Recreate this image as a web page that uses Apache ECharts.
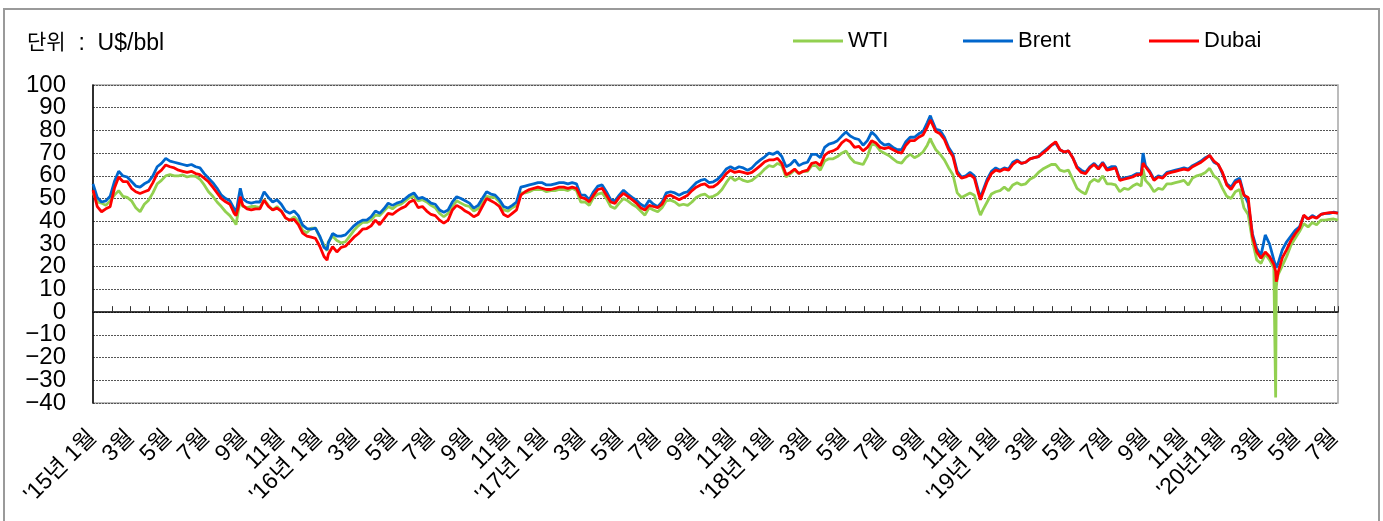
<!DOCTYPE html>
<html>
<head>
<meta charset="utf-8">
<script src="https://cdn.jsdelivr.net/npm/echarts@6/dist/echarts.min.js"></script>
<style>
html,body{margin:0;padding:0;background:#fff;}
#c{width:1383px;height:521px;}
</style>
</head>
<body>
<div id="c"></div>
<script>
const FONT = "'Liberation Sans', Arial, 'Noto Sans CJK KR', sans-serif";

// Weekly (Friday) samples, first week = 2015-01-02
const firstWeek = '2015-01-02';
const lastDay = '2020-07-31';

const brent2015 = [56.5,50.5,48.5,49.0,51.0,57.5,62.0,60.0,59.5,57.5,55.5,55.0,56.5,57.5,60.0,64.0,65.5,67.7,66.5,66.0,65.5,65.0,64.5,65.0,64.0,63.5,61.0,59.0,57.0,54.5,51.5,50.0,49.0,45.5,50.0,50.0,48.5,48.0,48.5,48.5,53.0,50.5,48.5,49.5,47.5,44.5,43.5,44.5,42.5,38.3,36.8,36.5];
const wti2015   = [52.5,48.5,48.0,47.0,49.0,51.5,53.5,51.0,50.5,49.0,46.0,44.2,47.5,49.3,52.5,56.5,58.0,60.0,60.5,60.0,60.0,60.4,59.5,60.0,59.8,58.5,56.0,53.0,51.0,48.5,46.5,44.2,42.5,40.0,45.0,46.5,46.0,46.5,46.5,46.0,49.5,47.0,45.0,46.5,44.5,41.5,40.5,42.0,40.0,36.0,35.0,37.0];
const dubai2015 = [53.7,46.5,44.2,45.5,46.4,54.5,59.5,57.5,57.5,54.5,53.0,52.2,53.0,53.7,57.0,61.0,62.5,64.8,64.0,63.5,62.5,62.0,61.5,62.0,61.0,60.5,59.0,57.4,55.0,52.5,50.0,48.6,47.5,43.5,46.5,47.0,45.5,45.0,45.5,45.5,49.3,46.5,45.0,45.8,44.5,41.5,40.5,40.8,38.5,34.8,33.5,33.0];

const brent2016 = [37.0,33.5,28.5,30.5,34.6,33.5,33.5,34.0,36.0,38.0,39.5,40.5,40.5,42.0,44.5,43.5,45.5,48.0,47.0,48.0,48.6,50.0,51.5,52.5,50.0,50.5,49.5,48.0,47.5,45.0,44.0,45.0,48.5,50.8,50.0,49.0,48.0,45.8,47.0,50.0,53.0,52.0,51.5,49.5,46.5,45.8,47.0,48.5,55.0,55.5,56.0,56.5,57.0];
const wti2016   = [37.0,33.0,29.5,31.0,33.5,31.5,30.5,31.0,33.5,36.0,38.0,39.5,39.5,40.5,42.7,42.5,44.5,46.5,45.5,47.0,47.5,49.0,50.5,51.0,49.0,49.5,48.5,47.0,46.0,43.5,42.0,43.5,46.5,49.0,48.0,47.0,46.5,44.5,45.5,48.5,51.0,50.5,50.5,48.5,45.0,44.5,46.0,47.0,52.5,52.5,53.0,54.0,54.0];
const dubai2016 = [32.5,29.0,24.5,25.5,28.8,26.5,28.5,29.0,31.0,33.0,34.5,36.5,36.8,38.0,40.5,38.5,41.0,43.5,43.0,44.5,45.7,46.5,48.5,49.3,46.0,46.5,44.5,43.0,42.5,40.5,39.2,40.5,45.0,47.0,46.0,44.5,43.5,42.0,43.0,46.5,50.0,49.0,48.0,46.5,43.0,42.0,43.5,45.0,51.5,53.0,54.0,54.5,55.0];

const brent2017 = [57.0,56.0,56.0,56.5,57.0,57.0,56.5,57.0,56.5,51.5,51.5,49.5,53.0,55.5,56.0,53.0,49.5,49.0,51.5,53.7,52.0,50.5,49.3,47.5,46.4,49.3,47.5,46.4,48.5,52.5,53.0,52.5,51.5,52.5,53.0,55.0,57.0,58.0,58.5,57.0,57.4,58.5,60.5,63.0,64.0,63.0,64.0,63.5,62.5,63.5,65.5,67.0];
const wti2017   = [54.0,53.0,53.5,53.5,54.0,54.0,53.5,54.5,53.5,48.5,48.5,47.0,50.5,52.0,52.5,50.0,46.5,45.7,48.0,50.0,49.0,47.5,46.4,44.5,42.7,46.0,45.0,44.2,46.0,49.0,49.3,48.5,47.0,47.5,47.0,48.5,50.5,51.5,52.0,50.5,51.0,52.0,54.0,57.0,59.6,58.0,59.0,58.0,57.4,58.0,59.5,61.0];
const dubai2017 = [54.5,54.0,54.0,54.5,55.0,55.0,54.5,55.0,54.5,50.5,50.0,48.6,51.5,54.0,54.5,51.5,48.5,47.9,50.5,52.3,51.0,49.5,48.0,46.0,45.0,47.0,46.5,46.0,47.5,51.0,51.5,50.5,49.5,50.5,51.5,53.5,55.0,56.0,56.5,55.0,55.2,56.5,58.5,61.0,62.5,61.5,62.0,61.5,61.0,61.5,63.0,64.5];

const brent2018 = [68.4,70.0,69.5,70.6,68.5,64.0,65.0,67.0,64.5,65.5,66.0,69.5,69.5,68.0,72.5,74.0,74.5,75.5,77.5,79.3,77.5,76.5,76.0,73.5,75.5,79.3,77.5,75.0,73.5,74.0,72.5,71.5,71.5,75.0,77.0,77.0,78.5,79.5,83.5,85.0,80.5,80.0,77.0,72.5,69.5,62.0,59.5,60.0,61.5,60.0,53.0,53.5];
const wti2018   = [63.0,64.5,64.0,65.5,64.5,59.5,61.0,62.5,61.0,62.0,62.0,64.5,64.5,62.5,66.5,67.5,67.5,68.5,70.0,71.0,68.0,66.0,65.5,65.0,68.5,74.0,73.5,71.0,70.0,69.0,67.5,66.0,65.6,68.0,69.5,68.0,69.0,70.5,73.5,75.0,71.5,69.5,67.0,63.5,60.5,52.5,50.5,51.5,52.5,51.5,45.0,45.0];
const dubai2018 = [66.2,67.0,67.0,67.7,65.5,60.5,61.5,63.0,61.0,62.0,62.5,65.5,66.0,64.5,69.0,70.5,71.0,72.0,74.5,76.0,75.0,72.5,73.0,71.0,72.5,75.5,74.5,72.5,72.0,72.5,71.5,70.5,70.0,73.5,75.5,75.5,77.0,78.0,81.5,83.5,79.5,78.5,76.0,71.5,68.5,61.0,59.0,59.5,60.5,59.0,52.0,52.5];

const brent2019 = [58.5,62.0,63.5,62.5,63.5,63.0,66.0,67.0,65.5,66.0,67.5,68.0,68.5,70.5,72.0,73.5,74.5,71.5,70.5,71.0,68.0,64.0,62.5,61.5,64.0,65.5,63.5,66.0,63.0,64.0,64.0,58.5,59.0,59.5,60.0,61.0,61.0,64.5,62.0,58.5,60.0,59.5,61.5,62.0,62.5,63.0,63.5,63.0,64.5,65.5,66.5,68.0];
const wti2019   = [48.5,52.0,53.0,53.5,55.0,53.5,56.0,57.0,56.0,56.5,58.5,59.5,61.5,63.0,64.0,65.0,65.0,62.5,62.0,62.5,58.5,54.5,53.0,52.0,57.0,58.5,57.5,60.0,56.5,56.5,56.0,53.0,54.5,54.0,55.5,56.5,55.5,58.0,56.0,53.0,54.5,54.0,56.5,56.5,57.0,57.5,58.0,56.0,59.0,60.0,60.5,61.5];
const dubai2019 = [57.5,61.0,62.5,62.0,63.0,62.5,65.0,66.5,65.5,66.0,67.5,68.0,68.5,70.0,71.5,73.5,75.0,71.5,70.5,71.0,68.0,63.5,61.5,61.0,63.5,65.0,63.0,65.5,62.5,63.0,63.5,58.0,58.5,59.0,59.5,60.5,60.5,64.0,61.5,58.0,59.5,59.0,61.0,61.5,62.0,62.5,63.0,62.5,64.0,65.0,66.0,67.5];

const brent2020 = [69.0,66.0,65.0,61.0,56.5,55.0,58.0,59.0,52.0,48.0,34.5,28.0,25.0,34.0,30.0,23.0,21.5,27.5,31.0,33.5,36.0,37.5,42.5,41.0,42.5,41.5,43.0,43.5,43.5,44.0,43.6];
const wti2020   = [63.3,60.0,58.5,54.5,51.0,50.0,53.0,54.0,46.0,43.0,31.5,23.0,21.5,25.5,23.0,19.5,16.5,20.5,24.5,29.5,32.5,35.5,39.0,37.5,39.5,38.5,40.5,40.5,40.8,41.0,40.5];
const dubai2020 = [69.0,66.5,65.0,61.5,56.0,54.0,57.0,58.0,51.5,50.5,33.5,26.5,23.8,26.5,24.5,21.0,17.5,24.0,27.5,31.5,34.5,37.0,42.7,41.0,42.0,41.4,43.0,43.5,43.8,43.8,43.6];

// extra daily points at extremes
const extraDates = ['2015-08-24','2015-08-31','2016-01-20','2018-10-03','2018-12-24','2019-09-16','2020-04-20','2020-04-21','2020-04-22'];
const extraBrent = [43.5, 54.5, 27.5, 86.5, 50.5, 70.0, 20.5, 19.5, 20.0];
const extraWTI   = [38.5, 49.0, 27.0, 76.5, 42.7, 63.0, -37.6, 11.0, 13.5];
const extraDubai = [42.5, 50.8, 22.9, 84.6, 49.5, 65.6, 18.0, 13.4, 14.5];

// axis labels (one per two months)
const tickLabels = ["'15년 1월","3월","5월","7월","9월","11월",
  "'16년 1월","3월","5월","7월","9월","11월",
  "'17년 1월","3월","5월","7월","9월","11월",
  "'18년 1월","3월","5월","7월","9월","11월",
  "'19년 1월","3월","5월","7월","9월","11월",
  "'20년1월","3월","5월","7월"];
const yTicks = [-40,-30,-20,-10,0,10,20,30,40,50,60,70,80,90,100];

const seriesNames = ['WTI','Brent','Dubai'];
const seriesColors = ['#92D050','#0066CC','#FF0000'];

function toTime(s){ const p = s.split('-').map(Number); return Date.UTC(p[0], p[1]-1, p[2]); }
function build(weekly, extra){
  const t0 = toTime(firstWeek);
  const pts = weekly.map((v,i)=>[t0 + i*7*86400000, v]);
  extraDates.forEach((d,i)=>pts.push([toTime(d), extra[i]]));
  pts.sort((a,b)=>a[0]-b[0]);
  return pts;
}
const wti = build([].concat(wti2015,wti2016,wti2017,wti2018,wti2019,wti2020), extraWTI);
const brent = build([].concat(brent2015,brent2016,brent2017,brent2018,brent2019,brent2020), extraBrent);
const dubai = build([].concat(dubai2015,dubai2016,dubai2017,dubai2018,dubai2019,dubai2020), extraDubai);
const allData = [wti, brent, dubai];

const TICK_MAX = 66.19; // month ticks span of the plot width
const yFmt = v => v < 0 ? '\u2212' + Math.abs(v) : String(v);
const yInner = [yTicks[1], yTicks[yTicks.length-2]]; // labels next to min/max

const legendCommon = {
  icon: 'rect', itemWidth: 50, itemHeight: 3, itemGap: 0, padding: 0, top: 29,
  selectedMode: false,
  textStyle: { fontSize: 22, color: '#000', fontFamily: FONT, lineHeight: 24 }
};
const yCommon = {
  type: 'value', min: yTicks[0], max: yTicks[yTicks.length-1], interval: 10, position: 'left'
};

const chart = echarts.init(document.getElementById('c'), null, { renderer: 'canvas' });
chart.setOption({
  animation: false,
  backgroundColor: '#fff',
  textStyle: { fontFamily: FONT },
  title: {
    text: '{k|단위}{a|  :  U$/bbl}',
    left: 22, top: 27,
    textStyle: {
      fontWeight: 'normal',
      rich: {
        k: { fontSize: 21, color: '#000', fontFamily: FONT, fontWeight: 'normal' },
        a: { fontSize: 23, color: '#000', fontFamily: FONT, fontWeight: 'normal' }
      }
    }
  },
  legend: [
    Object.assign({}, legendCommon, { data: ['WTI'], left: 793 }),
    Object.assign({}, legendCommon, { data: ['Brent'], left: 963 }),
    Object.assign({}, legendCommon, { data: ['Dubai'], left: 1149 })
  ],
  graphic: [{
    type: 'rect', silent: true, z: -10,
    shape: { x: 4, y: 9, width: 1375, height: 560 },
    style: { fill: 'none', stroke: '#9a9a9a', lineWidth: 2 }
  }],
  grid: {
    left: 93, right: 45, top: 85, bottom: 118,
    show: true, borderColor: '#a6a6a6', borderWidth: 1.5, backgroundColor: 'transparent'
  },
  xAxis: [
    { type: 'time', min: toTime(firstWeek), max: toTime(lastDay), show: false,
      axisLine: { onZero: false } },
    { type: 'value', min: 0, max: TICK_MAX, interval: 1, position: 'bottom',
      axisLine: { show: true, onZero: true, onZeroAxisIndex: 0, lineStyle: { color: '#000', width: 1.5 } },
      axisTick: { show: true, inside: true, length: 6, lineStyle: { color: '#333', width: 1 } },
      axisLabel: { show: false }, splitLine: { show: false } },
    { type: 'value', min: 0, max: TICK_MAX, interval: 1, position: 'bottom',
      axisLine: { show: false, onZero: false }, axisTick: { show: false }, splitLine: { show: false },
      axisLabel: {
        show: true, rotate: 45, margin: 31, fontSize: 23, color: '#000', fontFamily: FONT,
        showMinLabel: true, showMaxLabel: true,
        formatter: function(v){
          const r = Math.round(v);
          if (Math.abs(v - r) > 1e-6 || r % 2 !== 0) return '';
          return tickLabels[r/2] || '';
        }
      } }
  ],
  yAxis: [
    Object.assign({}, yCommon, {
      axisLine: { show: true, onZero: false, lineStyle: { color: '#000', width: 1.5 } },
      axisTick: { show: false },
      axisLabel: { fontSize: 24, lineHeight: 18, color: '#000', margin: 27, fontFamily: FONT,
        showMinLabel: true, showMaxLabel: true, hideOverlap: false, formatter: yFmt },
      splitLine: { show: true, lineStyle: { color: '#555', type: [2, 1], width: 1 } }
    }),
    Object.assign({}, yCommon, {
      axisLine: { show: false, onZero: false }, axisTick: { show: false }, splitLine: { show: false },
      axisLabel: { fontSize: 24, lineHeight: 18, color: '#000', margin: 27, fontFamily: FONT,
        showMinLabel: false, showMaxLabel: false, hideOverlap: false,
        formatter: v => yInner.indexOf(v) >= 0 ? yFmt(v) : '' }
    })
  ],
  series: allData.map((d, i) => ({
    name: seriesNames[i], type: 'line', xAxisIndex: 0, yAxisIndex: 0, data: d,
    showSymbol: false, symbol: 'none', smooth: false,
    lineStyle: { color: seriesColors[i], width: 2.8 },
    itemStyle: { color: seriesColors[i] },
    emphasis: { disabled: true }
  }))
});
</script>
</body>
</html>
